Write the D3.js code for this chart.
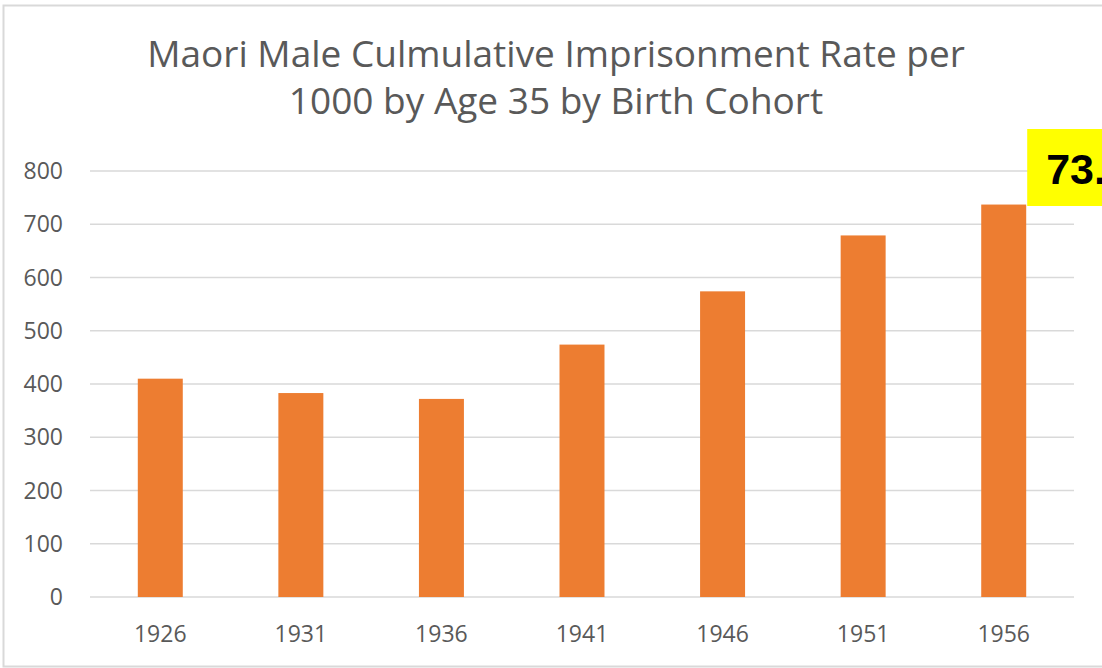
<!DOCTYPE html>
<html>
<head>
<meta charset="utf-8">
<script src="https://cdn.jsdelivr.net/npm/d3@7"></script>
<style>
  html, body { margin: 0; padding: 0; background: #fff; overflow: hidden; }
  svg { display: block; font-family: "Open Sans", "Noto Sans", sans-serif; }
</style>
</head>
<body>
<svg id="chart" width="1102" height="668"></svg>
<script>
const titleLines = ['Maori Male Culmulative Imprisonment Rate per', '1000 by Age 35 by Birth Cohort'];
const cohorts = ['1926', '1931', '1936', '1941', '1946', '1951', '1956'];
const rates = [410, 383, 372, 474, 574, 679, 737];
const yTicks = [0, 100, 200, 300, 400, 500, 600, 700, 800];
const callout = '73.6';

const svg = d3.select('#chart');
const width = +svg.attr('width');
const height = +svg.attr('height');

const margin = {top: 171, right: 28, bottom: 71, left: 90};

// chart border (right side runs off the picture)
svg.append('rect')
  .attr('x', 3.5).attr('y', 5.5)
  .attr('width', width + 10).attr('height', 661)
  .attr('fill', 'none')
  .attr('stroke', '#d9d9d9')
  .attr('stroke-width', 2);

const x = d3.scaleBand()
  .domain(cohorts)
  .range([margin.left, width - margin.right])
  .paddingInner(0.68)
  .paddingOuter(0.34);

const y = d3.scaleLinear()
  .domain([0, 800])
  .range([height - margin.bottom, margin.top]);

// gridlines
svg.append('g')
  .attr('class', 'grid')
  .selectAll('line')
  .data(yTicks)
  .enter()
  .append('line')
  .attr('x1', margin.left)
  .attr('x2', width - margin.right)
  .attr('y1', d => y(d))
  .attr('y2', d => y(d))
  .attr('stroke', '#d9d9d9')
  .attr('stroke-width', 1.5);

// y labels
svg.append('g')
  .selectAll('text')
  .data(yTicks)
  .enter()
  .append('text')
  .attr('x', 63)
  .attr('y', d => y(d))
  .attr('dy', '0.35em')
  .attr('text-anchor', 'end')
  .attr('fill', '#595959')
  .attr('font-size', 23)
  .text(d => d);

// bars
svg.append('g')
  .attr('class', 'bars')
  .selectAll('rect')
  .data(cohorts)
  .enter()
  .append('rect')
  .attr('x', d => x(d))
  .attr('width', x.bandwidth())
  .attr('y', (d, i) => y(rates[i]))
  .attr('height', (d, i) => y(0) - y(rates[i]))
  .attr('fill', '#ed7d31');

// x labels
svg.append('g')
  .selectAll('text')
  .data(cohorts)
  .enter()
  .append('text')
  .attr('x', d => x(d) + x.bandwidth() / 2)
  .attr('y', 642)
  .attr('text-anchor', 'middle')
  .attr('fill', '#595959')
  .attr('font-size', 23)
  .text(d => d);

// title
svg.append('g')
  .selectAll('text')
  .data(titleLines)
  .enter()
  .append('text')
  .attr('x', 556)
  .attr('y', (d, i) => 67 + i * 47)
  .attr('text-anchor', 'middle')
  .attr('fill', '#595959')
  .attr('font-size', 37)
  .text(d => d);

// yellow callout, clipped by the right edge
const last = cohorts[cohorts.length - 1];
const boxX = x(last) + x.bandwidth() + 1;
svg.append('rect')
  .attr('x', boxX)
  .attr('y', 129)
  .attr('width', width - boxX + 20)
  .attr('height', 77)
  .attr('fill', '#ffff00');

svg.append('text')
  .attr('x', boxX + 19)
  .attr('y', 184)
  .attr('font-family', '"Liberation Sans", Arial, sans-serif')
  .attr('font-weight', 'bold')
  .attr('font-size', 43)
  .attr('fill', '#000')
  .text(callout);
</script>
</body>
</html>
